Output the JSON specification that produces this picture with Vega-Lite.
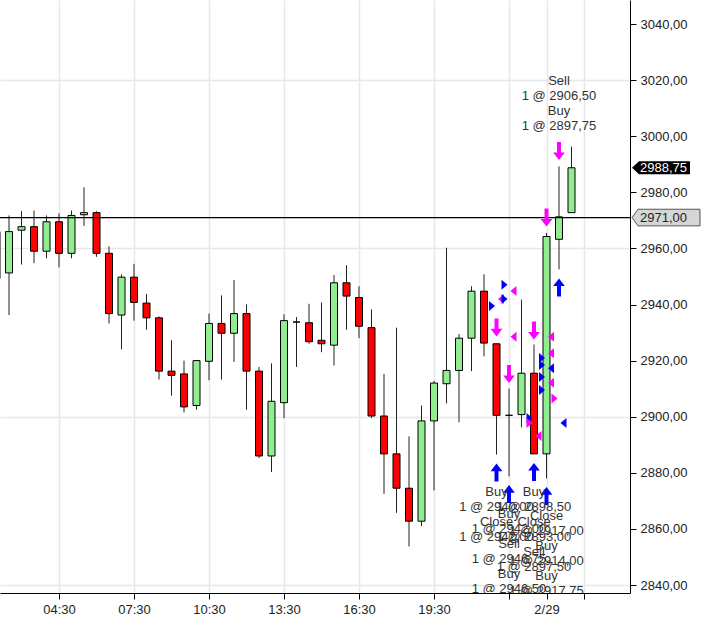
{
  "$schema": "https://vega.github.io/schema/vega-lite/v6.json",
  "width": 630,
  "height": 593,
  "autosize": {"type": "none"},
  "padding": {"left": 0, "top": 0, "right": 79, "bottom": 36},
  "background": "white",
  "config": {
    "view": {"stroke": null},
    "axis": {"labelFont": "Liberation Sans", "labelFontSize": 13, "labelColor": "#222222", "domainColor": "#000000", "tickColor": "#000000", "domainWidth": 1, "tickWidth": 1}
  },
  "resolve": {"scale": {"shape": "independent"}},
  "datasets": {
    "candles": [
      {"t": "2020-02-28T02:00:00Z", "o": 2966.0, "h": 2969.0, "l": 2946.0, "c": 2949.25},
      {"t": "2020-02-28T02:30:00Z", "o": 2951.25, "h": 2971.75, "l": 2936.25, "c": 2966.0},
      {"t": "2020-02-28T03:00:00Z", "o": 2966.5, "h": 2973.25, "l": 2954.25, "c": 2967.75},
      {"t": "2020-02-28T03:30:00Z", "o": 2967.75, "h": 2973.5, "l": 2954.75, "c": 2959.0},
      {"t": "2020-02-28T04:00:00Z", "o": 2959.0, "h": 2971.75, "l": 2956.5, "c": 2969.5},
      {"t": "2020-02-28T04:30:00Z", "o": 2969.5, "h": 2972.5, "l": 2953.25, "c": 2958.25},
      {"t": "2020-02-28T05:00:00Z", "o": 2958.25, "h": 2973.5, "l": 2956.5, "c": 2971.75},
      {"t": "2020-02-28T05:30:00Z", "o": 2972.0, "h": 2981.75, "l": 2968.0, "c": 2972.75},
      {"t": "2020-02-28T06:00:00Z", "o": 2972.75, "h": 2973.25, "l": 2957.0, "c": 2958.25},
      {"t": "2020-02-28T06:30:00Z", "o": 2958.25, "h": 2960.75, "l": 2933.25, "c": 2936.75},
      {"t": "2020-02-28T07:00:00Z", "o": 2936.25, "h": 2950.75, "l": 2924.0, "c": 2949.75},
      {"t": "2020-02-28T07:30:00Z", "o": 2949.75, "h": 2954.5, "l": 2934.25, "c": 2940.75},
      {"t": "2020-02-28T08:00:00Z", "o": 2940.5, "h": 2943.75, "l": 2931.0, "c": 2935.25},
      {"t": "2020-02-28T08:30:00Z", "o": 2935.25, "h": 2935.75, "l": 2913.25, "c": 2916.25},
      {"t": "2020-02-28T09:00:00Z", "o": 2916.25, "h": 2927.25, "l": 2907.5, "c": 2914.75},
      {"t": "2020-02-28T09:30:00Z", "o": 2915.25, "h": 2920.0, "l": 2901.5, "c": 2903.5},
      {"t": "2020-02-28T10:00:00Z", "o": 2904.0, "h": 2920.0, "l": 2902.5, "c": 2920.0},
      {"t": "2020-02-28T10:30:00Z", "o": 2919.75, "h": 2936.75, "l": 2913.0, "c": 2933.25},
      {"t": "2020-02-28T11:00:00Z", "o": 2933.25, "h": 2943.25, "l": 2913.25, "c": 2929.75},
      {"t": "2020-02-28T11:30:00Z", "o": 2929.75, "h": 2948.75, "l": 2919.5, "c": 2936.75},
      {"t": "2020-02-28T12:00:00Z", "o": 2936.75, "h": 2940.0, "l": 2902.5, "c": 2916.25},
      {"t": "2020-02-28T12:30:00Z", "o": 2916.25, "h": 2917.75, "l": 2885.25, "c": 2886.0},
      {"t": "2020-02-28T13:00:00Z", "o": 2886.0, "h": 2919.0, "l": 2880.25, "c": 2905.5},
      {"t": "2020-02-28T13:30:00Z", "o": 2905.0, "h": 2936.5, "l": 2899.5, "c": 2934.25},
      {"t": "2020-02-28T14:00:00Z", "o": 2933.75, "h": 2935.5, "l": 2917.75, "c": 2933.75},
      {"t": "2020-02-28T14:30:00Z", "o": 2933.5, "h": 2940.25, "l": 2926.0, "c": 2926.75},
      {"t": "2020-02-28T15:00:00Z", "o": 2927.25, "h": 2940.75, "l": 2923.0, "c": 2926.0},
      {"t": "2020-02-28T15:30:00Z", "o": 2925.5, "h": 2950.5, "l": 2918.25, "c": 2947.75},
      {"t": "2020-02-28T16:00:00Z", "o": 2947.75, "h": 2954.0, "l": 2931.0, "c": 2943.0},
      {"t": "2020-02-28T16:30:00Z", "o": 2942.5, "h": 2946.5, "l": 2928.0, "c": 2932.25},
      {"t": "2020-02-28T17:00:00Z", "o": 2931.75, "h": 2938.25, "l": 2899.5, "c": 2900.25},
      {"t": "2020-02-28T17:30:00Z", "o": 2900.25, "h": 2915.25, "l": 2872.5, "c": 2886.75},
      {"t": "2020-02-28T18:00:00Z", "o": 2886.75, "h": 2931.75, "l": 2865.75, "c": 2874.5},
      {"t": "2020-02-28T18:30:00Z", "o": 2874.5, "h": 2893.0, "l": 2853.75, "c": 2862.75},
      {"t": "2020-02-28T19:00:00Z", "o": 2862.75, "h": 2904.0, "l": 2861.0, "c": 2898.5},
      {"t": "2020-02-28T19:30:00Z", "o": 2898.5, "h": 2912.75, "l": 2873.75, "c": 2912.0},
      {"t": "2020-02-28T20:00:00Z", "o": 2911.75, "h": 2960.25, "l": 2904.75, "c": 2916.5},
      {"t": "2020-02-28T20:30:00Z", "o": 2916.5, "h": 2929.5, "l": 2898.0, "c": 2928.0},
      {"t": "2020-02-28T21:00:00Z", "o": 2928.0, "h": 2946.5, "l": 2916.25, "c": 2944.75},
      {"t": "2020-02-28T21:30:00Z", "o": 2944.75, "h": 2950.75, "l": 2921.5, "c": 2926.25},
      {"t": "2020-02-28T22:00:00Z", "o": 2926.0, "h": 2926.0, "l": 2886.5, "c": 2900.5},
      {"t": "2020-02-28T22:30:00Z", "o": 2900.5, "h": 2910.0, "l": 2878.75, "c": 2900.5},
      {"t": "2020-02-28T23:00:00Z", "o": 2900.75, "h": 2941.75, "l": 2896.25, "c": 2915.5},
      {"t": "2020-02-28T23:30:00Z", "o": 2915.5, "h": 2925.75, "l": 2886.75, "c": 2886.75},
      {"t": "2020-02-29T00:00:00Z", "o": 2886.75, "h": 2965.5, "l": 2878.0, "c": 2964.25},
      {"t": "2020-02-29T00:30:00Z", "o": 2963.25, "h": 2989.25, "l": 2952.5, "c": 2971.25},
      {"t": "2020-02-29T01:00:00Z", "o": 2972.75, "h": 2996.25, "l": 2972.75, "c": 2988.75}
    ],
    "arrows": [
      {"t": "2020-02-28T22:00:00Z", "p": 2880.1, "side": "Buy"},
      {"t": "2020-02-28T22:30:00Z", "p": 2872.4, "side": "Buy"},
      {"t": "2020-02-28T23:30:00Z", "p": 2880.3, "side": "Buy"},
      {"t": "2020-02-29T00:00:00Z", "p": 2871.7, "side": "Buy"},
      {"t": "2020-02-29T00:30:00Z", "p": 2946.1, "side": "Buy"},
      {"t": "2020-02-28T22:00:00Z", "p": 2931.8, "side": "Sell"},
      {"t": "2020-02-28T22:30:00Z", "p": 2915.2, "side": "Sell"},
      {"t": "2020-02-28T23:30:00Z", "p": 2930.7, "side": "Sell"},
      {"t": "2020-02-29T00:00:00Z", "p": 2971.0, "side": "Sell"},
      {"t": "2020-02-29T00:30:00Z", "p": 2994.7, "side": "Sell"}
    ],
    "fills": [
      {"t": "2020-02-28T22:00:00Z", "p": 2939.5, "side": "Buy", "dir": "R"},
      {"t": "2020-02-28T22:00:00Z", "p": 2942.0, "side": "Sell", "dir": "L"},
      {"t": "2020-02-28T22:30:00Z", "p": 2947.0, "side": "Buy", "dir": "R"},
      {"t": "2020-02-28T22:30:00Z", "p": 2942.0, "side": "Buy", "dir": "R"},
      {"t": "2020-02-28T22:30:00Z", "p": 2944.8, "side": "Sell", "dir": "L"},
      {"t": "2020-02-28T22:30:00Z", "p": 2928.5, "side": "Sell", "dir": "L"},
      {"t": "2020-02-28T23:30:00Z", "p": 2899.5, "side": "Buy", "dir": "R"},
      {"t": "2020-02-28T23:30:00Z", "p": 2897.8, "side": "Sell", "dir": "R"},
      {"t": "2020-02-28T23:30:00Z", "p": 2893.1, "side": "Sell", "dir": "L"},
      {"t": "2020-02-29T00:00:00Z", "p": 2920.9, "side": "Buy", "dir": "R"},
      {"t": "2020-02-29T00:00:00Z", "p": 2918.4, "side": "Buy", "dir": "R"},
      {"t": "2020-02-29T00:00:00Z", "p": 2914.2, "side": "Buy", "dir": "R"},
      {"t": "2020-02-29T00:00:00Z", "p": 2909.5, "side": "Buy", "dir": "R"},
      {"t": "2020-02-29T00:00:00Z", "p": 2928.5, "side": "Sell", "dir": "L"},
      {"t": "2020-02-29T00:00:00Z", "p": 2922.6, "side": "Sell", "dir": "L"},
      {"t": "2020-02-29T00:00:00Z", "p": 2912.1, "side": "Sell", "dir": "L"},
      {"t": "2020-02-29T00:00:00Z", "p": 2917.3, "side": "Buy", "dir": "L"},
      {"t": "2020-02-29T00:30:00Z", "p": 2906.5, "side": "Sell", "dir": "R"},
      {"t": "2020-02-29T00:30:00Z", "p": 2897.75, "side": "Buy", "dir": "L"}
    ],
    "notes": [
      {"t": "2020-02-28T22:00:00Z", "p": 2875.3, "text": "Buy\n1 @ 2940,00\nClose\n1 @ 2942,00"},
      {"t": "2020-02-28T22:30:00Z", "p": 2867.5, "text": "Buy\n1 @ 2942,00\nSell\n1 @ 2946,75\nBuy\n1 @ 2946,50"},
      {"t": "2020-02-28T23:30:00Z", "p": 2875.3, "text": "Buy\n1 @ 2898,50\nClose\n1 @ 2893,00\nSell\n1 @ 2897,50"},
      {"t": "2020-02-29T00:00:00Z", "p": 2866.7, "text": "Close\n1 @ 2917,00\nBuy\n1 @ 2914,00\nBuy\n1 @ 2917,75"},
      {"t": "2020-02-29T00:30:00Z", "p": 3021.8, "text": "Sell\n1 @ 2906,50\nBuy\n1 @ 2897,75"}
    ]
  },
  "layer": [
    {
      "data": {"name": "candles"},
      "mark": {"type": "rule", "color": "#222222", "strokeWidth": 1, "clip": true},
      "encoding": {
        "x": {
          "field": "t", "type": "temporal", "title": null,
          "scale": {"type": "utc", "nice": false, "padding": 0, "domain": [
            {"year": 2020, "month": 2, "date": 28, "hours": 2, "minutes": 8, "seconds": 24, "utc": true},
            {"year": 2020, "month": 2, "date": 29, "hours": 3, "minutes": 20, "seconds": 24, "utc": true}
          ]},
          "axis": {
            "values": [
              {"year": 2020, "month": 2, "date": 28, "hours": 4, "minutes": 30, "utc": true},
              {"year": 2020, "month": 2, "date": 28, "hours": 7, "minutes": 30, "utc": true},
              {"year": 2020, "month": 2, "date": 28, "hours": 10, "minutes": 30, "utc": true},
              {"year": 2020, "month": 2, "date": 28, "hours": 13, "minutes": 30, "utc": true},
              {"year": 2020, "month": 2, "date": 28, "hours": 16, "minutes": 30, "utc": true},
              {"year": 2020, "month": 2, "date": 28, "hours": 19, "minutes": 30, "utc": true},
              {"year": 2020, "month": 2, "date": 28, "hours": 22, "minutes": 30, "utc": true},
              {"year": 2020, "month": 2, "date": 29, "hours": 0, "minutes": 0, "utc": true},
              {"year": 2020, "month": 2, "date": 29, "hours": 1, "minutes": 30, "utc": true}
            ],
            "labelExpr": "utchours(datum.value) == 0 ? (utcmonth(datum.value) + 1) + '/' + utcdate(datum.value) : ((utchours(datum.value) == 22 || utchours(datum.value) == 1) ? '' : utcFormat(datum.value, '%H:%M'))",
            "grid": true, "gridColor": "#e8e8e8", "gridWidth": 1.5,
            "tickSize": 6, "labelPadding": 4, "labelFlush": false, "labelOverlap": false
          }
        },
        "y": {
          "field": "l", "type": "quantitative", "title": null,
          "scale": {"domain": [2837.15, 3048.56], "nice": false, "zero": false, "padding": 0},
          "axis": {
            "orient": "right",
            "values": [2840, 2860, 2880, 2900, 2920, 2940, 2960, 2980, 3000, 3020, 3040],
            "labelExpr": "replace(format(datum.value, '.2f'), '.', ',')",
            "grid": true,
            "gridColor": {"condition": {"test": "(datum.value - 2840) % 60 == 0", "value": "#e8e8e8"}, "value": "transparent"},
            "gridWidth": 1.5,
            "tickSize": 6, "labelPadding": 4, "labelOverlap": false, "labelFlush": false
          }
        },
        "y2": {"field": "h"}
      }
    },
    {
      "data": {"name": "candles"},
      "mark": {"type": "bar", "width": 7, "stroke": "#000000", "strokeWidth": 1, "clip": true},
      "encoding": {
        "x": {"field": "t", "type": "temporal", "title": null},
        "y": {"field": "o", "type": "quantitative", "title": null},
        "y2": {"field": "c"},
        "fill": {"condition": {"test": "datum.c >= datum.o", "value": "#90ee90"}, "value": "#ff0000"}
      }
    },
    {
      "data": {"values": [{"p": 2971.0}]},
      "mark": {"type": "rule", "color": "#000000", "strokeWidth": 1.2},
      "encoding": {"y": {"field": "p", "type": "quantitative", "title": null}}
    },
    {
      "data": {"name": "fills"},
      "mark": {"type": "point", "filled": true, "opacity": 1, "size": 100, "strokeWidth": 0, "clip": true},
      "encoding": {
        "x": {"field": "t", "type": "temporal", "title": null},
        "y": {"field": "p", "type": "quantitative", "title": null},
        "shape": {"field": "dir", "type": "nominal", "legend": null, "scale": {"domain": ["R", "L"], "range": ["M-1.5,-1L-0.3,0L-1.5,1Z", "M1.5,-1L0.3,0L1.5,1Z"]}},
        "color": {"field": "side", "type": "nominal", "legend": null, "scale": {"domain": ["Buy", "Sell"], "range": ["#0000ff", "#ff00ff"]}}
      }
    },
    {
      "data": {"name": "arrows"},
      "mark": {"type": "point", "filled": true, "opacity": 1, "size": 324, "strokeWidth": 0, "clip": true},
      "encoding": {
        "x": {"field": "t", "type": "temporal", "title": null},
        "y": {"field": "p", "type": "quantitative", "title": null},
        "shape": {"field": "side", "type": "nominal", "legend": null, "scale": {"domain": ["Buy", "Sell"], "range": ["M-0.22,1L0.22,1L0.22,-0.15L0.65,-0.15L0,-1L-0.65,-0.15L-0.22,-0.15Z", "M-0.22,-1L0.22,-1L0.22,0.15L0.65,0.15L0,1L-0.65,0.15L-0.22,0.15Z"]}},
        "color": {"field": "side", "type": "nominal", "legend": null, "scale": {"domain": ["Buy", "Sell"], "range": ["#0000ff", "#ff00ff"]}}
      }
    },
    {
      "data": {"name": "notes"},
      "mark": {"type": "text", "align": "center", "baseline": "top", "lineBreak": "\n", "lineHeight": 15, "font": "Liberation Sans", "fontSize": 13, "color": "#333333", "clip": true},
      "encoding": {
        "x": {"field": "t", "type": "temporal", "title": null},
        "y": {"field": "p", "type": "quantitative", "title": null},
        "text": {"field": "text"}
      }
    },
    {
      "data": {"values": [{"p": 2971.0}]},
      "mark": {"type": "point", "filled": true, "opacity": 1, "size": 3600, "fill": "#d6d6d6", "stroke": "#555555", "strokeWidth": 1, "shape": "M0.067,0L0.267,-0.277L2.333,-0.277L2.333,0.277L0.267,0.277Z", "clip": false},
      "encoding": {
        "x": {"value": "width"},
        "y": {"field": "p", "type": "quantitative", "title": null}
      }
    },
    {
      "data": {"values": [{"p": 2988.75}]},
      "mark": {"type": "point", "filled": true, "opacity": 1, "size": 3600, "fill": "#000000", "strokeWidth": 0, "shape": "M0.067,0L0.3,-0.22L2,-0.22L2,0.22L0.3,0.22Z", "clip": false},
      "encoding": {
        "x": {"value": "width"},
        "y": {"field": "p", "type": "quantitative", "title": null}
      }
    },
    {
      "data": {"values": [{"p": 2971.0, "label": "2971,00"}]},
      "mark": {"type": "text", "align": "left", "baseline": "middle", "dx": 10, "font": "Liberation Sans", "fontSize": 13, "color": "#222222", "clip": false},
      "encoding": {
        "x": {"value": "width"},
        "y": {"field": "p", "type": "quantitative", "title": null},
        "text": {"field": "label"}
      }
    },
    {
      "data": {"values": [{"p": 2988.75, "label": "2988,75"}]},
      "mark": {"type": "text", "align": "left", "baseline": "middle", "dx": 10, "font": "Liberation Sans", "fontSize": 13, "color": "#ffffff", "clip": false},
      "encoding": {
        "x": {"value": "width"},
        "y": {"field": "p", "type": "quantitative", "title": null},
        "text": {"field": "label"}
      }
    }
  ]
}
